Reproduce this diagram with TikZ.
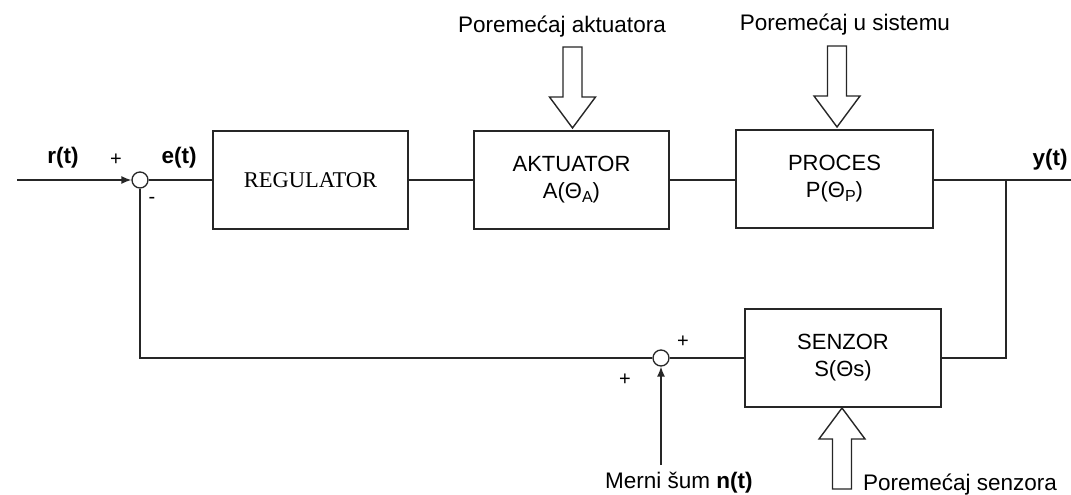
\documentclass[tikz,border=0pt]{standalone}
\usepackage{fontspec}
\setmainfont{Liberation Sans}
\newfontfamily\timesfont{Liberation Serif}
\usetikzlibrary{arrows.meta}

\newcommand{\lowsub}[1]{\raisebox{-0.3ex}{\fontsize{16}{16}\selectfont #1}}

\tikzset{
  line/.style={line width=1.4pt, draw=black!85},
  block/.style={draw=black!85, line width=1.6pt, minimum width=195pt, minimum height=98pt,
    inner sep=0pt, align=center, font=\fontsize{22}{27}\selectfont},
  sumpt/.style={circle, draw=black!85, line width=1.3pt, minimum size=16pt, inner sep=0pt, fill=white},
  lbl/.style={font=\fontsize{22.5}{26}\selectfont, inner sep=0pt},
  sgn/.style={font=\fontsize{20}{22}\selectfont, inner sep=0pt},
  sig/.style={font=\bfseries\fontsize{22.5}{26}\selectfont, inner sep=0pt},
  tip/.style={-{Latex[length=10pt,width=8pt]}},
  distarrow/.pic={
    \draw[line width=1.4pt, draw=black!85, fill=white]
      (-9.5,0) -- (-9.5,50) -- (-23,50) -- (0,81) -- (23,50) -- (9.5,50) -- (9.5,0) -- cycle;
  }
}

\begin{document}
\begin{tikzpicture}[x=1pt, y=-1pt]
\useasboundingbox (0,0) rectangle (1071,495);

% forward path
\node[sumpt] (s1) at (140,180) {};
\node[block, font=\timesfont\fontsize{22.5}{27}\selectfont] (reg) at (310.5,180) {REGULATOR};
\node[block] (akt) at (571.5,180) {AKTUATOR\\A(Θ\lowsub{A})};
\node[block, minimum width=197pt] (proc) at (834.5,179) {PROCES\\P(Θ\lowsub{P})};

% feedback path
\node[block, minimum width=196pt] (sen) at (843,358) {SENZOR\\S(Θs)};
\node[sumpt] (s2) at (661,358) {};

\coordinate (rin) at (17,180);
\coordinate (yout) at (1071,180);
\coordinate (ytap) at (1006,180);
\coordinate (nin) at (661,465);

\draw[line, tip] (rin) -- (s1);
\draw[line] (s1) -- (reg);
\draw[line] (reg) -- (akt);
\draw[line] (akt.east) -- (akt.east -| proc.west);
\draw[line] (akt.east -| proc.east) -- (yout);
\draw[line] (ytap) |- (sen.east);
\draw[line] (sen.west) -- (s2);
\draw[line] (s2) -| (s1);
\draw[line, tip] (nin) -- (s2);

% disturbance inputs
\pic at (572.5,47) {distarrow};
\pic at (837,46) {distarrow};
\pic[rotate=180] at (842,489) {distarrow};

% labels
\node[lbl] (la) at (562,27) {Poremećaj aktuatora};
\node[lbl] (lp) at (845,25) {Poremećaj u sistemu};
\node[lbl, anchor=west] (ls) at (863,485) {Poremećaj senzora};
\node[lbl, anchor=west] (ln) at (605,483) {Merni šum \textbf{n(t)}};

\node[sig] (rt) at (63,158) {r(t)};
\node[sig] (et) at (179,158) {e(t)};
\node[sig] (yt) at (1050,160) {y(t)};

\node[sgn] (p1) at (116,160) {+};
\node[sgn] (m1) at (152,200) {-};
\node[sgn] (p2) at (683,342) {+};
\node[sgn] (p3) at (625,380) {+};
\end{tikzpicture}
\end{document}
